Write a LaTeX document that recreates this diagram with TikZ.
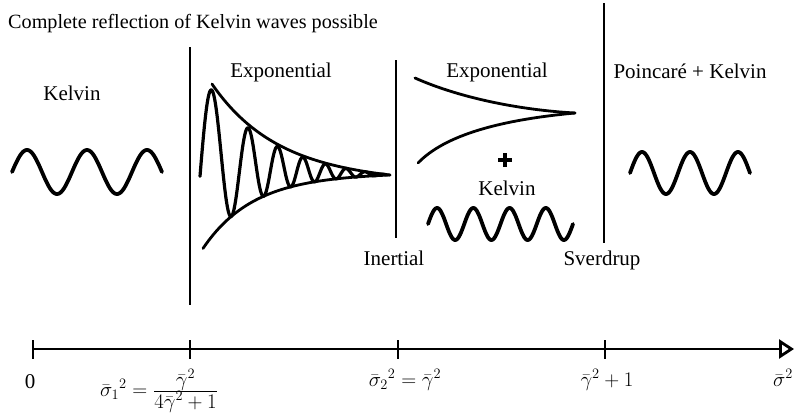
\documentclass[tikz,border=0pt]{standalone}
\usepackage{fontspec}
\setmainfont{Liberation Serif}
\usetikzlibrary{arrows.meta}
\begin{document}
\begin{tikzpicture}[x=1pt,y=-1pt,
  lbl/.style={font=\fontsize{21}{24}\selectfont, inner sep=0pt},
  wave/.style={line width=3.8pt, line cap=round, line join=round},
  env/.style={line width=2.8pt, line cap=round},
  divider/.style={line width=2.2pt},
  axisline/.style={line width=2.8pt},
  tickmark/.style={line width=2.8pt},
  declare function={
    U(\t)=110*(exp(-0.0155*\t)-0.0527*\t/190);
    L(\t)=78*(exp(-0.02*\t)-0.0224*\t/190);
    Uo(\t)=0.93*U(\t);
    ph(\t)=-8.6+7.735*\t+0.03581*\t*\t;
  }]
\useasboundingbox (0,0) rectangle (796,415);

% title
\node[lbl, font=\fontsize{20.2}{24}\selectfont, anchor=base west] (title) at (8,28) {Complete reflection of Kelvin waves possible};

% dividers
\coordinate (d1t) at (190,47);  \coordinate (d1b) at (190,305);
\coordinate (d2t) at (396,60);  \coordinate (d2b) at (396,238);
\coordinate (d3t) at (604,3);   \coordinate (d3b) at (604,243);
\draw[divider] (d1t) -- (d1b);
\draw[divider] (d2t) -- (d2b);
\draw[divider] (d3t) -- (d3b);

% region labels
\node[lbl, anchor=base] (kelvinA) at (72,100) {Kelvin};
\node[lbl, anchor=base] (expA) at (281,77) {Exponential};
\node[lbl, anchor=base] (expB) at (497,77) {Exponential};
\node[lbl, anchor=base] (poinc) at (690,78) {Poincaré + Kelvin};
\node[lbl, anchor=base] (kelvinB) at (507,195) {Kelvin};
\node[lbl, anchor=base] (inertial) at (394,265) {Inertial};
\node[lbl, anchor=base] (sverdrup) at (602,265) {Sverdrup};

% left Kelvin wave
\draw[wave] plot[domain=0:900, samples=160] ({12+\x/360*60}, {172-22*sin(\x)});

% decaying oscillation with envelopes
\draw[env] plot[domain=12:190, samples=100] ({200+\x}, {175-U(\x)});
\draw[env] plot[domain=3:190, samples=100] ({200+\x}, {175+L(\x)});
\draw[line width=3.2pt, line cap=round, line join=round]
  plot[domain=0:186, samples=500] ({200+\x}, {175+(L(\x)-Uo(\x))/2-(Uo(\x)+L(\x))/2*sin(ph(\x))});

% exponential ">" shape
\coordinate (tipB) at (575,113);
\draw[env] (415,78) .. controls (460,98) and (520,110) .. (tipB);
\draw[env] (418,163) .. controls (445,135) and (500,120) .. (tipB);

% plus sign
\draw[line width=3.5pt] (498,160) -- (512,160);
\draw[line width=3.5pt] (505,153) -- (505,167);

% middle Kelvin wave
\draw[wave] plot[domain=0:1440, samples=200] ({428+\x/360*36.25}, {224-16*sin(\x)});

% right wave
\draw[wave] plot[domain=0:900, samples=160] ({630+\x/360*48}, {173-21*sin(\x)});

% axis
\coordinate (ax0) at (33,349);
\coordinate (ax1) at (190,349);
\coordinate (ax2) at (398,349);
\coordinate (ax3) at (605,349);
\coordinate (axend) at (794,349);
\draw[axisline, -{Triangle[open, length=15pt, width=19pt, line width=2.8pt]}] (ax0) -- (axend);
\foreach \c in {ax0,ax1,ax2,ax3}
  \draw[tickmark] (\c) ++(0,-9) -- ++(0,19);

% axis labels
\node[lbl, anchor=base] (l0) at (30,388) {0};
\node[lbl, anchor=center] (l1) at (159,391) {$\bar\sigma_1{}^2=\frac{\textstyle\bar\gamma^2}{\textstyle 4\bar\gamma^2+1}$};
\node[lbl, anchor=base] (l2) at (405,386) {$\bar\sigma_2{}^2=\bar\gamma^2$};
\node[lbl, anchor=base] (l3) at (607,386) {$\bar\gamma^2+1$};
\node[lbl, anchor=base] (l4) at (783,386) {$\bar\sigma^2$};
\end{tikzpicture}
\end{document}
